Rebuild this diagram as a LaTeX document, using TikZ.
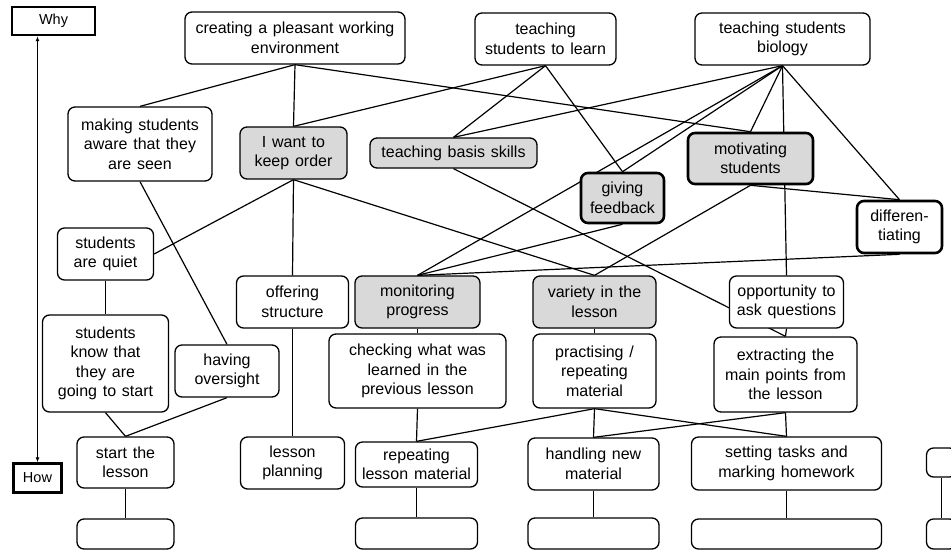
\documentclass[tikz,border=0pt]{standalone}
\usepackage{fontspec}
\setmainfont{Liberation Sans}[WordSpace=1.3]
\usetikzlibrary{arrows.meta,backgrounds}
\definecolor{boxgray}{HTML}{D9D9D9}
\begin{document}
\begin{tikzpicture}[x=1pt,y=-1pt,
  box/.style={draw=black, line width=1.3pt, rounded corners=7pt, fill=white,
    align=center, inner sep=2pt,
    font=\fontsize{16}{19.5}\selectfont},
  grey/.style={box, fill=boxgray},
  heavy/.style={line width=2.6pt},
  tag/.style={draw=black, line width=2.4pt, fill=white, inner sep=1pt,
    font=\fontsize{14.5}{16}\selectfont},
  link/.style={draw=black, line width=1.2pt}]
\useasboundingbox (0,0) rectangle (951,550);

% axis labels
\node[tag, minimum width=83, minimum height=28] (why) at (53.5,21) {Why};
\node[tag, minimum width=48, minimum height=29] (how) at (37.5,478) {How};

% top level goals
\node[box, minimum width=220, minimum height=52] (env) at (295,38) {creating a pleasant working\\environment};
\node[box, minimum width=141, minimum height=52] (learn) at (545.5,39) {teaching\\students to learn};
\node[box, minimum width=175, minimum height=52] (bio) at (782.5,39) {teaching students\\biology};

% second level
\node[box, minimum width=144, minimum height=74] (aware) at (140,144) {making students\\aware that they\\are seen};
\node[grey, minimum width=107, minimum height=52] (order) at (293.5,153) {I want to\\keep order};
\node[grey, minimum width=167, minimum height=30] (basis) at (453.5,153) {teaching basis skills};
\node[grey, heavy, minimum width=83, minimum height=50] (feedback) at (622.5,198) {giving\\feedback};
\node[grey, heavy, minimum width=125, minimum height=51] (motiv) at (750.5,158.5) {motivating\\students};
\node[box, heavy, minimum width=85, minimum height=52] (diff) at (899.5,227) {differen-\\tiating};

% left column
\node[box, minimum width=96, minimum height=52] (quiet) at (105.5,254) {students\\are quiet};
\node[box, minimum width=126, minimum height=97] (know) at (105.5,363.5) {students\\know that\\they are\\going to start};
\node[box, minimum width=104, minimum height=52] (oversight) at (227,371) {having\\oversight};
\node[box, minimum width=97, minimum height=51] (start) at (125.5,462.5) {start the\\lesson};
\node[box, minimum width=97, minimum height=30] (blankA) at (125.5,534) {};

\node[box, minimum width=112, minimum height=52] (structure) at (292.5,302) {offering\\structure};
\node[box, minimum width=104, minimum height=52] (planning) at (292.5,463) {lesson\\planning};

% middle columns
\node[grey, minimum width=125, minimum height=52] (monitor) at (417.5,302) {monitoring\\progress};
\node[box, minimum width=177, minimum height=74] (checking) at (417.5,371) {checking what was\\learned in the\\previous lesson};
\node[box, minimum width=122, minimum height=45] (repeating) at (416.5,464.5) {repeating\\lesson material};
\node[box, minimum width=122, minimum height=31] (blankB) at (416.5,533.5) {};

\node[grey, minimum width=123, minimum height=52] (variety) at (594.5,302) {variety in the\\lesson};
\node[box, minimum width=123, minimum height=74] (practising) at (594.5,371) {practising /\\repeating\\material};
\node[box, minimum width=131, minimum height=52] (handling) at (593.5,464) {handling new\\material};
\node[box, minimum width=131, minimum height=31] (blankC) at (593.5,533.5) {};

% right column
\node[box, minimum width=114, minimum height=52] (opportunity) at (786.5,302) {opportunity to\\ask questions};
\node[box, minimum width=143, minimum height=75] (extracting) at (785.5,374.5) {extracting the\\main points from\\the lesson};
\node[box, minimum width=190, minimum height=53] (tasks) at (786.5,463.5) {setting tasks and\\marking homework};
\node[box, minimum width=190, minimum height=30] (blankD) at (786.5,534) {};

% boxes running off the right edge
\node[box, minimum width=30, minimum height=29] (edgeA) at (941.5,462.5) {};
\node[box, minimum width=30, minimum height=30] (edgeB) at (941.5,534) {};

\begin{scope}[on background layer]
  % why/how axis
  \draw[line width=1.2pt, {Latex[length=5pt,width=4pt]}-{Latex[length=5pt,width=4pt]}]
    (how.north |- why.south) -- (how.north);

  % from the top goals
  \draw[link] (env.south) -- (aware.north);
  \draw[link] (env.south) -- (order.north);
  \draw[link] (env.south) -- (motiv.north);
  \draw[link] (learn.south) -- (order.north);
  \draw[link] (learn.south) -- (basis.north);
  \draw[link] (learn.south) -- (feedback.north);
  \draw[link] (bio.south) -- (basis.north);
  \draw[link] (bio.south) -- (monitor.north);
  \draw[link] (bio.south) -- (feedback.north);
  \draw[link] (bio.south) -- (motiv.north);
  \draw[link] (bio.south) -- (opportunity.north);
  \draw[link] (bio.south) -- (diff.north);

  % second level downwards
  \draw[link] (order.south) -- (quiet.east);
  \draw[link] (order.south) -- (structure.north);
  \draw[link] (order.south) -- (variety.north);
  \draw[link] (aware.south) -- (oversight.north);
  \draw[link] (basis.south) -- (extracting.north);
  \draw[link] (feedback.south) -- (monitor.north);
  \draw[link] (motiv.south) -- (variety.north);
  \draw[link] (motiv.south) -- (diff.north);
  \draw[link] (diff.south) -- (monitor.north);

  % left column
  \draw[link] (quiet.south) -- (know.north);
  \draw[link] (know.south) -- (start.north);
  \draw[link] (oversight.south) -- (start.north);
  \draw[link] (start.south) -- (blankA.north);
  \draw[link] (structure.south) -- (planning.north);

  % middle columns
  \draw[link] (monitor.south) -- (checking.north);
  \draw[link] (checking.south) -- (repeating.north);
  \draw[link] (repeating.south) -- (blankB.north);
  \draw[link] (variety.south) -- (practising.north);
  \draw[link] (practising.south) -- (repeating.north);
  \draw[link] (practising.south) -- (handling.north);
  \draw[link] (practising.south) -- (tasks.north);
  \draw[link] (handling.south) -- (blankC.north);

  % right column
  \draw[link] (opportunity.south) -- (extracting.north);
  \draw[link] (extracting.south) -- (tasks.north);
  \draw[link] (extracting.south) -- (handling.north);
  \draw[link] (tasks.south) -- (blankD.north);
  \draw[link] (edgeA.south) -- (edgeB.north);
\end{scope}
\end{tikzpicture}
\end{document}
